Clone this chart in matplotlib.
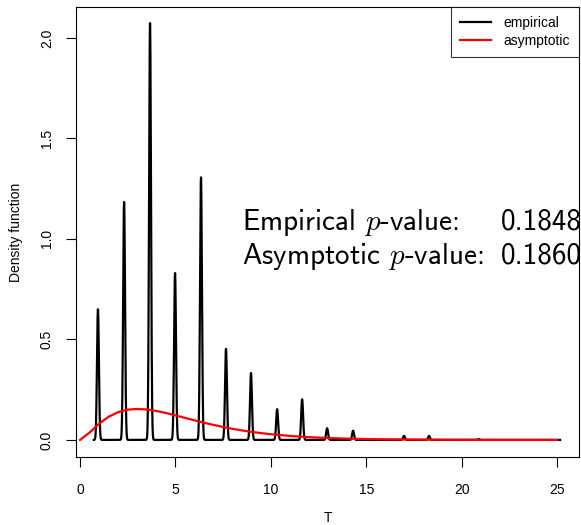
import matplotlib
matplotlib.use("Agg")
import matplotlib.pyplot as plt
import numpy as np

plt.rcParams['font.family'] = ['Liberation Sans', 'DejaVu Sans']
plt.rcParams['mathtext.fontset'] = 'cm'

# empirical density: spike locations and heights
peak_t = [0.94, 2.31, 3.67, 4.98, 6.34, 7.65, 8.96, 10.33, 11.64, 12.95, 14.31, 16.98, 18.29, 20.90]
peak_h = [0.650, 1.184, 2.075, 0.830, 1.308, 0.453, 0.333, 0.153, 0.202, 0.058, 0.046, 0.020, 0.020, 0.004]
emp_range = [0.72, 25.16]
bw = 0.05

# asymptotic density
asy_t = [0, 0.5, 1, 1.5, 2, 2.5, 3, 3.5, 4, 4.5, 5, 5.5, 6, 6.5, 7, 7.5, 8, 8.5,
         9, 9.5, 10, 11, 12, 13, 14, 15, 16, 18, 20, 25]
asy_d = [0.0, 0.0366, 0.0807, 0.1154, 0.1384, 0.1506, 0.1542, 0.1513, 0.1440,
         0.1338, 0.1220, 0.1097, 0.0973, 0.0854, 0.0744, 0.0642, 0.0551, 0.0470,
         0.0399, 0.0337, 0.0283, 0.0198, 0.0137, 0.0094, 0.0064, 0.0043, 0.0029,
         0.0013, 0.0005, 0.0001]

emp_p = "0.1848"
asy_p = "0.1860"

fig = plt.figure(figsize=(5.81, 5.25), dpi=100)
ax = fig.add_axes([76/581, 68/525, 503/581, 450/525])

# kernel-shaped spikes around each peak
tt = np.linspace(emp_range[0], emp_range[1], 4000)
dens = np.zeros_like(tt)
for p, h in zip(peak_t, peak_h):
    dens += h * np.exp(-0.5 * ((tt - p) / bw) ** 2)

ax.plot(tt, dens, color='black', lw=1.6, label='empirical')
ax.plot(asy_t, asy_d, color='red', lw=1.6, label='asymptotic')

ax.set_xlim(-0.21, 26.15)
ax.set_ylim(-0.085, 2.154)
ax.set_xticks([0, 5, 10, 15, 20, 25])
ax.set_yticks([0.0, 0.5, 1.0, 1.5, 2.0])
ax.set_yticklabels(['0.0', '0.5', '1.0', '1.5', '2.0'], rotation=90, va='center')
ax.tick_params(axis='both', direction='out', length=7, width=0.8, labelsize=10)
ax.tick_params(axis='x', pad=11.5)
ax.tick_params(axis='y', pad=9)
for s in ax.spines.values():
    s.set_linewidth(0.8)

ax.set_xlabel('T', fontsize=10, labelpad=10.5)
ax.set_ylabel('Density function', fontsize=10, labelpad=12)

big = dict(fontsize=21, family='cmss10', va='baseline', ha='left', clip_on=False)
ax.text(8.49, 1.045, r'Empirical $p$-value:', **big)
ax.text(22.07, 1.045, emp_p, **big)
ax.text(8.49, 0.876, r'Asymptotic $p$-value:', **big)
ax.text(22.07, 0.876, asy_p, **big)

leg = ax.legend(loc='upper right', fontsize=10, frameon=True, fancybox=False,
                edgecolor='black', borderaxespad=0, handlelength=2.2,
                handletextpad=0.9, borderpad=0.65, labelspacing=0.25)
leg.get_frame().set_linewidth(0.8)

fig.savefig('out.png', dpi=100)
